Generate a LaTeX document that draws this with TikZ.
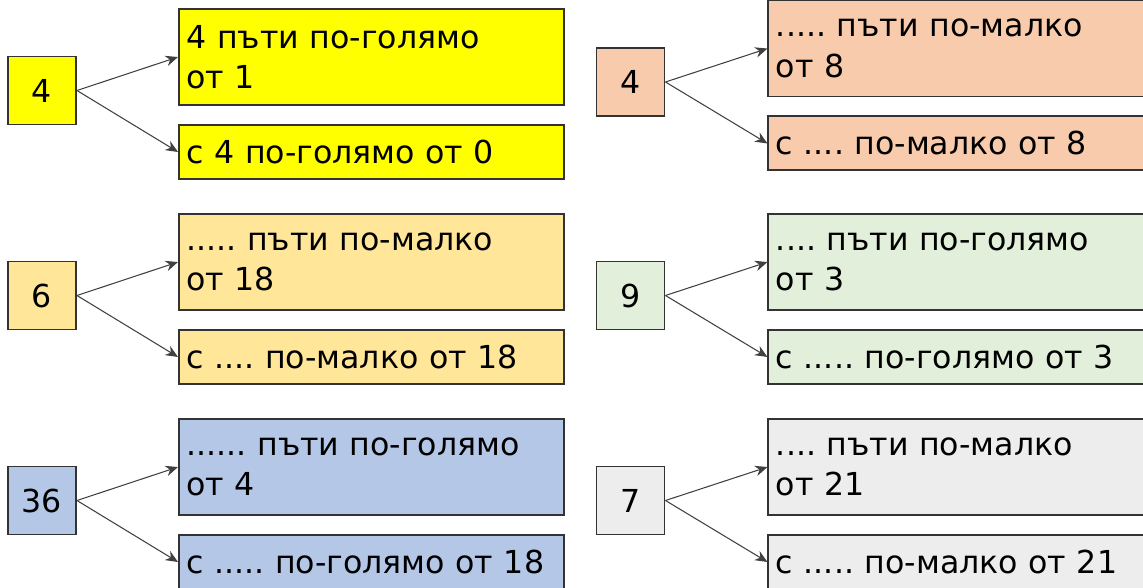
\documentclass[tikz,border=0pt]{standalone}
\usepackage{fontspec}
\setmainfont{DejaVu Sans}
\usepackage{tikz}
\usetikzlibrary{positioning, arrows.meta}
\frenchspacing

\definecolor{cYellow}{HTML}{FFFF00}
\definecolor{cPeach}{HTML}{F8CBAD}
\definecolor{cSand}{HTML}{FFE699}
\definecolor{cMint}{HTML}{E2EFDA}
\definecolor{cSky}{HTML}{B4C7E7}
\definecolor{cAsh}{HTML}{EDEDED}

\begin{document}
\begin{tikzpicture}[
    every node/.style={font=\fontsize{18}{23}\selectfont},
    numbox/.style={draw=black!80, line width=1.1pt, minimum size=1.36cm, inner sep=0pt},
    topbox/.style={draw=black!80, line width=1.1pt, text width=7.4cm, align=left, inner xsep=0.15cm, inner ysep=0pt, minimum height=1.92cm},
    lowbox/.style={draw=black!80, line width=1.1pt, text width=7.4cm, align=left, inner xsep=0.15cm, inner ysep=0pt, minimum height=1.08cm},
    link/.style={-{Stealth[length=7pt, width=6pt]}, draw=black!75, line width=0.6pt}
]
    \clip (0,0) rectangle (22.86,-11.76);

    % left column
    \node (N1) [numbox, fill=cYellow] at (0.84,-1.81) {4};
    \node (T1) [topbox, fill=cYellow, right=2.02cm of N1, anchor=south west, yshift=-0.31cm] {4 пъти по-голямо\\от 1};
    \node (L1) [lowbox, fill=cYellow, below=0.36cm of T1] {с 4 по-голямо от 0};
    \draw [link] (N1.east) -- (T1.west);
    \draw [link] (N1.east) -- (L1.west);

    \node (N2) [numbox, fill=cSand] at (0.84,-5.91) {6};
    \node (T2) [topbox, fill=cSand, right=2.02cm of N2, anchor=south west, yshift=-0.31cm] {..... пъти по-малко\\от 18};
    \node (L2) [lowbox, fill=cSand, below=0.36cm of T2] {с .... по-малко от 18};
    \draw [link] (N2.east) -- (T2.west);
    \draw [link] (N2.east) -- (L2.west);

    \node (N3) [numbox, fill=cSky] at (0.84,-10.01) {36};
    \node (T3) [topbox, fill=cSky, right=2.02cm of N3, anchor=south west, yshift=-0.31cm] {...... пъти по-голямо\\от 4};
    \node (L3) [lowbox, fill=cSky, below=0.36cm of T3] {с ..... по-голямо от 18};
    \draw [link] (N3.east) -- (T3.west);
    \draw [link] (N3.east) -- (L3.west);

    % right column
    \node (N4) [numbox, fill=cPeach] at (12.61,-1.64) {4};
    \node (T4) [topbox, fill=cPeach, right=2.04cm of N4, anchor=south west, yshift=-0.31cm] {..... пъти по-малко\\от 8};
    \node (L4) [lowbox, fill=cPeach, below=0.36cm of T4] {с .... по-малко от 8};
    \draw [link] (N4.east) -- (T4.west);
    \draw [link] (N4.east) -- (L4.west);

    \node (N5) [numbox, fill=cMint] at (12.61,-5.91) {9};
    \node (T5) [topbox, fill=cMint, right=2.04cm of N5, anchor=south west, yshift=-0.31cm] {.... пъти по-голямо\\от 3};
    \node (L5) [lowbox, fill=cMint, below=0.36cm of T5] {с ..... по-голямо от 3};
    \draw [link] (N5.east) -- (T5.west);
    \draw [link] (N5.east) -- (L5.west);

    \node (N6) [numbox, fill=cAsh] at (12.61,-10.01) {7};
    \node (T6) [topbox, fill=cAsh, right=2.04cm of N6, anchor=south west, yshift=-0.31cm] {.... пъти по-малко\\от 21};
    \node (L6) [lowbox, fill=cAsh, below=0.36cm of T6] {с ..... по-малко от 21};
    \draw [link] (N6.east) -- (T6.west);
    \draw [link] (N6.east) -- (L6.west);
\end{tikzpicture}
\end{document}
